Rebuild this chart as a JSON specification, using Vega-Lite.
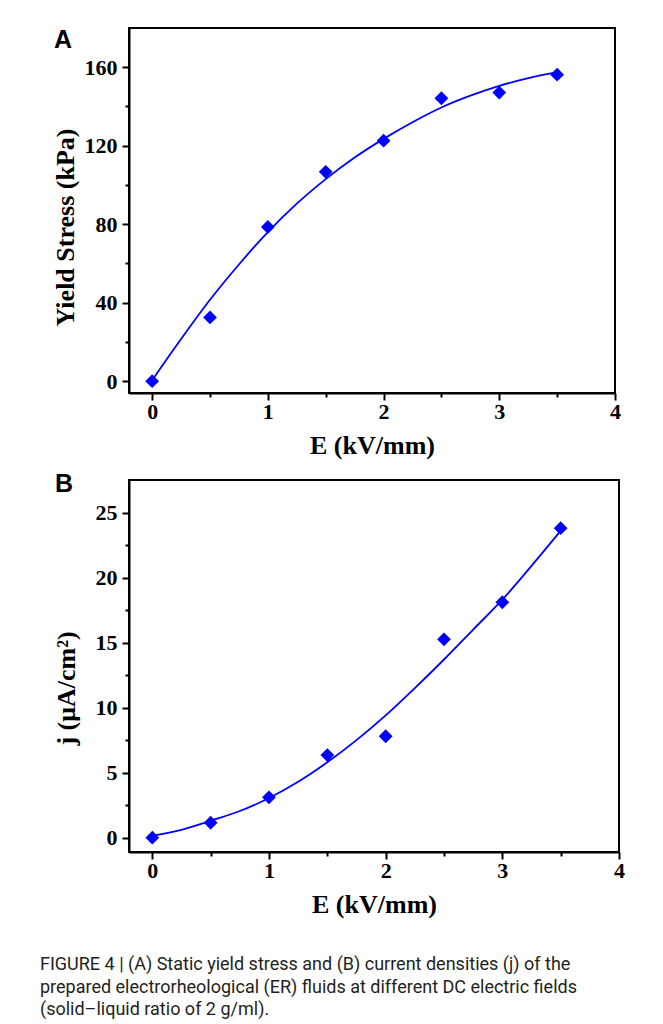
{
  "$schema": "https://vega.github.io/schema/vega-lite/v6.json",
  "padding": {"left": 40, "top": 27, "right": 10, "bottom": 4},
  "background": "white",
  "title": {
    "text": [
      "FIGURE 4 | (A) Static yield stress and (B) current densities (j) of the",
      "prepared electrorheological (ER) fluids at different DC electric fields",
      "(solid–liquid ratio of 2 g/ml)."
    ],
    "orient": "bottom",
    "anchor": "start",
    "frame": "bounds",
    "font": "Roboto",
    "fontSize": 18,
    "fontWeight": "normal",
    "color": "#231f20",
    "lineHeight": 22.5,
    "offset": 38,
    "dx": -11
  },
  "config": {
    "view": {"stroke": "black", "strokeWidth": 2},
    "axis": {
      "grid": false,
      "domainColor": "black",
      "domainWidth": 2,
      "tickColor": "black",
      "tickWidth": 2,
      "labelFont": "Liberation Serif",
      "labelFontWeight": "bold",
      "labelFontSize": 22,
      "labelColor": "black",
      "labelOverlap": false,
      "labelBound": false,
      "labelFlush": false,
      "titleFont": "Liberation Serif",
      "titleFontWeight": "bold",
      "titleFontSize": 26,
      "titleColor": "black"
    }
  },
  "datasets": {
    "stress": [
      {"E": 0, "tau": 0},
      {"E": 0.5, "tau": 32.5},
      {"E": 1.0, "tau": 78.6},
      {"E": 1.5, "tau": 106.7},
      {"E": 2.0, "tau": 122.6},
      {"E": 2.5, "tau": 144.2},
      {"E": 3.0, "tau": 147.1},
      {"E": 3.5, "tau": 156.2}
    ],
    "stressFit": [
      {"E": 0, "tau": 0.5},
      {"E": 0.25, "tau": 21.5},
      {"E": 0.5, "tau": 41.5},
      {"E": 0.75, "tau": 59.5},
      {"E": 1.0, "tau": 76},
      {"E": 1.25, "tau": 90.5},
      {"E": 1.5, "tau": 103},
      {"E": 1.75, "tau": 114},
      {"E": 2.0, "tau": 123.5},
      {"E": 2.25, "tau": 132},
      {"E": 2.5, "tau": 139.5},
      {"E": 2.75, "tau": 145.5},
      {"E": 3.0, "tau": 150.5},
      {"E": 3.25, "tau": 154.5},
      {"E": 3.5, "tau": 157.5}
    ],
    "current": [
      {"E": 0, "j": 0},
      {"E": 0.5, "j": 1.15},
      {"E": 1.0, "j": 3.1},
      {"E": 1.5, "j": 6.35},
      {"E": 2.0, "j": 7.8},
      {"E": 2.5, "j": 15.25},
      {"E": 3.0, "j": 18.1},
      {"E": 3.5, "j": 23.8}
    ],
    "currentFit": [
      {"E": 0, "j": 0.15},
      {"E": 0.25, "j": 0.6},
      {"E": 0.5, "j": 1.3},
      {"E": 0.75, "j": 2.05},
      {"E": 1.0, "j": 3.05},
      {"E": 1.25, "j": 4.3},
      {"E": 1.5, "j": 5.8},
      {"E": 1.75, "j": 7.5},
      {"E": 2.0, "j": 9.4},
      {"E": 2.25, "j": 11.5},
      {"E": 2.5, "j": 13.7},
      {"E": 2.75, "j": 16.0},
      {"E": 3.0, "j": 18.3},
      {"E": 3.25, "j": 20.9},
      {"E": 3.5, "j": 23.6}
    ]
  },
  "spacing": 12,
  "vconcat": [
    {
      "width": 486,
      "height": 365,
      "title": {
        "text": "A",
        "anchor": "start",
        "frame": "bounds",
        "font": "Liberation Sans",
        "fontWeight": "bold",
        "fontSize": 25,
        "color": "black",
        "baseline": "alphabetic",
        "offset": -45,
        "dx": 2
      },
      "encoding": {
        "x": {
          "field": "E",
          "type": "quantitative",
          "scale": {"domain": [-0.2, 4], "nice": false, "zero": false},
          "axis": {
            "title": "E (kV/mm)",
            "values": [0, 0.5, 1, 1.5, 2, 2.5, 3, 3.5, 4],
            "labelExpr": "datum.value % 1 === 0 ? format(datum.value, 'd') : ''",
            "tickSize": {"condition": {"test": "datum.value % 1 !== 0", "value": 4}, "value": 7},
            "labelPadding": 1,
            "titlePadding": 10
          }
        },
        "y": {
          "field": "tau",
          "type": "quantitative",
          "scale": {"domain": [-6, 180], "nice": false, "zero": false},
          "axis": {
            "title": "Yield Stress (kPa)",
            "values": [0, 20, 40, 60, 80, 100, 120, 140, 160],
            "labelExpr": "datum.value % 40 === 0 ? format(datum.value, 'd') : ''",
            "tickSize": {"condition": {"test": "datum.value % 40 !== 0", "value": 4}, "value": 7},
            "labelPadding": 5,
            "titlePadding": 6,
            "titleY": 199
          }
        }
      },
      "layer": [
        {
          "data": {"name": "stressFit"},
          "mark": {"type": "line", "color": "#0000ff", "strokeWidth": 1.8, "interpolate": "monotone"}
        },
        {
          "data": {"name": "stress"},
          "mark": {"type": "point", "shape": "diamond", "filled": true, "size": 190, "color": "#0000ff", "opacity": 1}
        }
      ]
    },
    {
      "width": 490,
      "height": 372,
      "title": {
        "text": "B",
        "anchor": "start",
        "frame": "bounds",
        "font": "Liberation Sans",
        "fontWeight": "bold",
        "fontSize": 25,
        "color": "black",
        "baseline": "alphabetic",
        "offset": -37,
        "dx": 2
      },
      "encoding": {
        "x": {
          "field": "E",
          "type": "quantitative",
          "scale": {"domain": [-0.2, 4], "nice": false, "zero": false},
          "axis": {
            "title": "E (kV/mm)",
            "values": [0, 0.5, 1, 1.5, 2, 2.5, 3, 3.5, 4],
            "labelExpr": "datum.value % 1 === 0 ? format(datum.value, 'd') : ''",
            "tickSize": {"condition": {"test": "datum.value % 1 !== 0", "value": 4}, "value": 7},
            "labelPadding": 1,
            "titlePadding": 10
          }
        },
        "y": {
          "field": "j",
          "type": "quantitative",
          "scale": {"domain": [-1.1, 27.5], "nice": false, "zero": false},
          "axis": {
            "title": "j (μA/cm²)",
            "values": [0, 2.5, 5, 7.5, 10, 12.5, 15, 17.5, 20, 22.5, 25],
            "labelExpr": "datum.value % 5 === 0 ? format(datum.value, 'd') : ''",
            "tickSize": {"condition": {"test": "datum.value % 5 !== 0", "value": 4}, "value": 7},
            "labelPadding": 5,
            "titlePadding": 16,
            "titleY": 208
          }
        }
      },
      "layer": [
        {
          "data": {"name": "currentFit"},
          "mark": {"type": "line", "color": "#0000ff", "strokeWidth": 1.8, "interpolate": "monotone"}
        },
        {
          "data": {"name": "current"},
          "mark": {"type": "point", "shape": "diamond", "filled": true, "size": 190, "color": "#0000ff", "opacity": 1}
        }
      ]
    }
  ]
}
